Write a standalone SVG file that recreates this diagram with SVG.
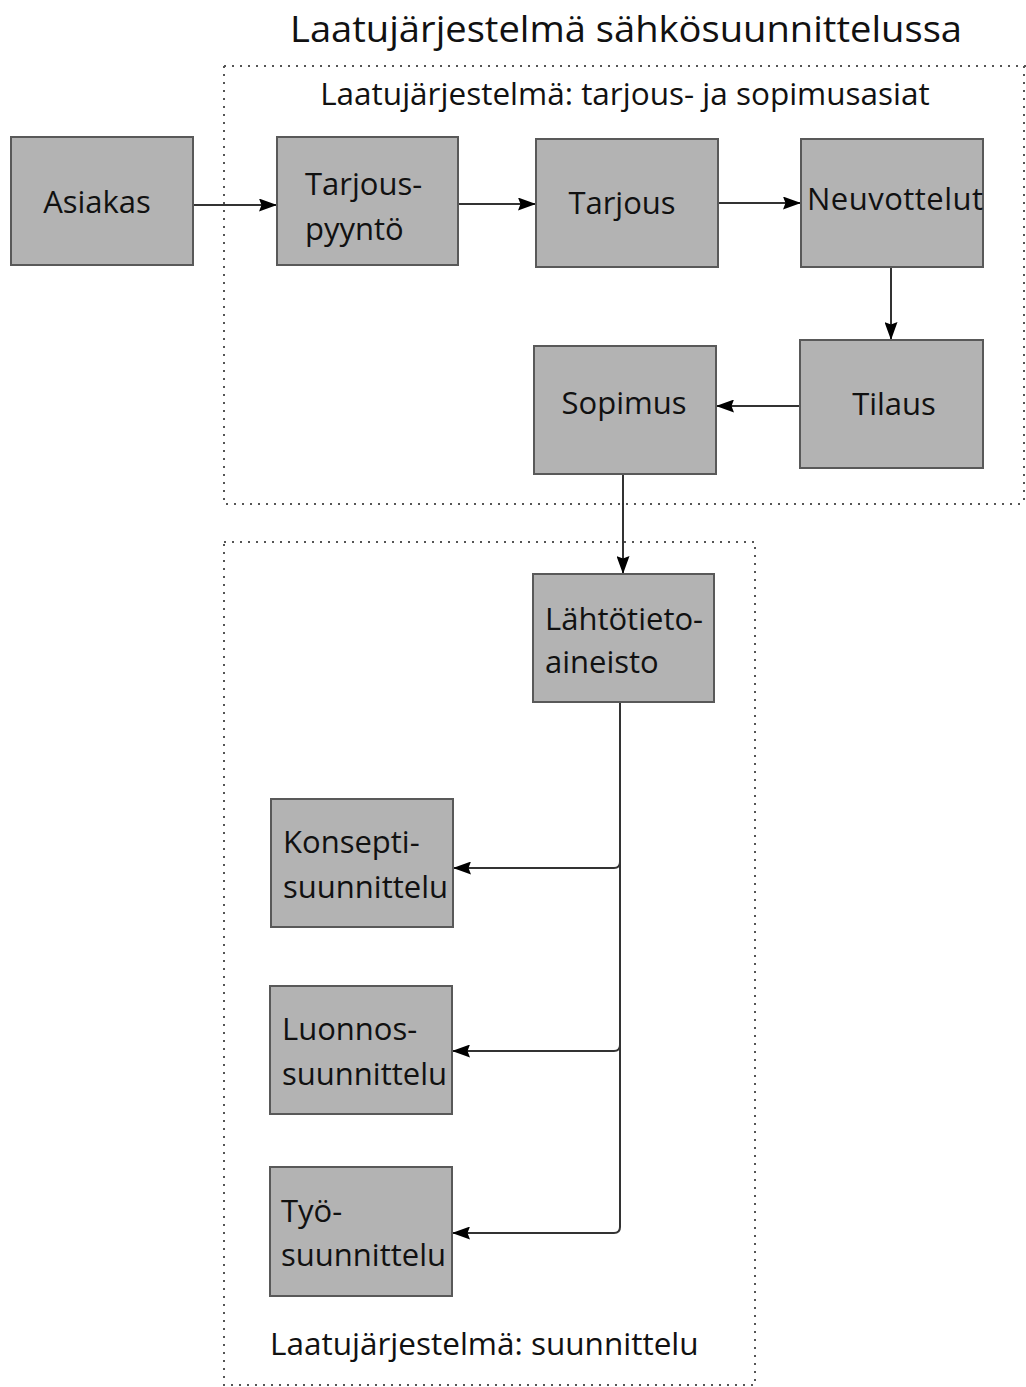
<svg xmlns="http://www.w3.org/2000/svg" width="1026" height="1387" viewBox="0 0 1026 1387">
<style>
.node rect{fill:#b3b3b3;stroke:#595959;stroke-width:2}
text{font-family:"Open Sans","DejaVu Sans",sans-serif;fill:#111;font-size:31px}
.c{text-anchor:middle}
.frame{fill:none;stroke:#555;stroke-width:2;stroke-dasharray:2 6}
.conn path{fill:none;stroke:#333;stroke-width:2}
</style>
<defs>
<marker id="ah" viewBox="0 0 18 13" refX="18" refY="6.5" markerWidth="18" markerHeight="13" markerUnits="userSpaceOnUse" orient="auto">
<path d="M0,0 L18,6.5 L0,13 L2.5,6.5 Z" fill="#000"/>
</marker>
</defs>
<rect width="1026" height="1387" fill="#fff"/>
<text x="626" y="42" class="c" style="font-size:37px" textLength="672" lengthAdjust="spacingAndGlyphs">Laatujärjestelmä sähkösuunnittelussa</text>
<g id="frame-tarjous">
<path class="frame" d="M224,66 H1026 M224,66 V504 H1026 M1024,66 V504"/>
<text x="625" y="105" class="c" style="font-size:31.5px">Laatujärjestelmä: tarjous- ja sopimusasiat</text>
</g>
<g id="frame-suunnittelu">
<rect class="frame" x="224" y="542" width="531" height="843"/>
<text x="270" y="1355" style="font-size:31.5px">Laatujärjestelmä: suunnittelu</text>
</g>
<g class="conn" id="connectors">
<path d="M193,205 H277" marker-end="url(#ah)"/>
<path d="M458,204 H536" marker-end="url(#ah)"/>
<path d="M718,203 H801" marker-end="url(#ah)"/>
<path d="M891,267 V340" marker-end="url(#ah)"/>
<path d="M800,406 H716" marker-end="url(#ah)"/>
<path d="M623,474 V574" marker-end="url(#ah)"/>
<path d="M620,702 V862 Q620,868 614,868 H453" marker-end="url(#ah)"/>
<path d="M620,702 V1045 Q620,1051 614,1051 H452" marker-end="url(#ah)"/>
<path d="M620,702 V1227 Q620,1233 614,1233 H452" marker-end="url(#ah)"/>
</g>
<g class="node" id="asiakas"><rect x="11" y="137" width="182" height="128"/><text x="97" y="213" class="c">Asiakas</text></g>
<g class="node" id="tarjouspyynto"><rect x="277" y="137" width="181" height="128"/><text x="305" y="195">Tarjous-</text><text x="305" y="240">pyyntö</text></g>
<g class="node" id="tarjous"><rect x="536" y="139" width="182" height="128"/><text x="622" y="214" class="c">Tarjous</text></g>
<g class="node" id="neuvottelut"><rect x="801" y="139" width="182" height="128"/><text x="807" y="210" textLength="176">Neuvottelut</text></g>
<g class="node" id="tilaus"><rect x="800" y="340" width="183" height="128"/><text x="894" y="415" class="c">Tilaus</text></g>
<g class="node" id="sopimus"><rect x="534" y="346" width="182" height="128"/><text x="624" y="414" class="c">Sopimus</text></g>
<g class="node" id="lahtotieto"><rect x="533" y="574" width="181" height="128"/><text x="545" y="630">Lähtötieto-</text><text x="545" y="673">aineisto</text></g>
<g class="node" id="konsepti"><rect x="271" y="799" width="182" height="128"/><text x="283" y="853">Konsepti-</text><text x="283" y="898">suunnittelu</text></g>
<g class="node" id="luonnos"><rect x="270" y="986" width="182" height="128"/><text x="282" y="1040">Luonnos-</text><text x="282" y="1085">suunnittelu</text></g>
<g class="node" id="tyo"><rect x="270" y="1167" width="182" height="129"/><text x="281" y="1222">Työ-</text><text x="281" y="1266">suunnittelu</text></g>
</svg>
